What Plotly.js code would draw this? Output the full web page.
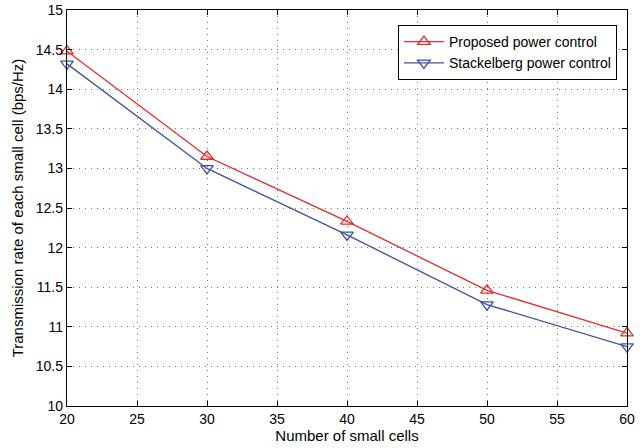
<!DOCTYPE html>
<html>
<head>
<meta charset="utf-8">
<script src="https://cdn.plot.ly/plotly-3.0.1.min.js"></script>
<style>html,body{margin:0;padding:0;background:#fff;}#chart{width:644px;height:448px;}</style>
</head>
<body>
<div id="chart"></div>
<script>
const cells = [20, 30, 40, 50, 60];
const proposed = [14.48, 13.15, 12.33, 11.46, 10.92];
const stackelberg = [14.32, 13.00, 12.16, 11.28, 10.75];
const xTicks = [20, 25, 30, 35, 40, 45, 50, 55, 60];
const yTicks = [10, 10.5, 11, 11.5, 12, 12.5, 13, 13.5, 14, 14.5, 15];

const red = '#e8292b';
const blue = '#3f4fa3';
const FONT = 'Liberation Sans, Arial, sans-serif';

const traces = [
  {x: cells, y: proposed, name: 'Proposed power control', mode: 'lines+markers', cliponaxis: false,
   line: {color: red, width: 1.3},
   marker: {symbol: 'triangle-up-open', size: 11, color: red, line: {width: 1.3, color: red}}},
  {x: cells, y: stackelberg, name: 'Stackelberg power control', mode: 'lines+markers', cliponaxis: false,
   line: {color: blue, width: 1.3},
   marker: {symbol: 'triangle-down-open', size: 11, color: blue, line: {width: 1.3, color: blue}}}
];

const axisCommon = {
  showline: true, mirror: 'allticks', linecolor: '#000', linewidth: 1.2,
  ticks: 'inside', ticklen: 5, tickcolor: '#000',
  showgrid: true, gridcolor: '#777', griddash: '1px,5px', gridwidth: 1,
  zeroline: false,
  tickfont: {family: FONT, size: 14, color: '#000'}
};

const layout = {
  width: 644, height: 448,
  margin: {l: 67, r: 17, t: 10, b: 42},
  paper_bgcolor: '#fff', plot_bgcolor: '#fff',
  showlegend: true,
  legend: {x: 0.982, y: 0.962, xanchor: 'right', yanchor: 'top',
    bgcolor: '#fff', bordercolor: '#000', borderwidth: 1,
    font: {family: FONT, size: 14, color: '#000'},
    itemwidth: 40, tracegroupgap: 0},
  xaxis: Object.assign({}, axisCommon, {
    range: [20, 60], tickvals: xTicks, ticktext: xTicks.map(String),
    title: {text: 'Number of small cells', standoff: 4,
      font: {family: FONT, size: 15, color: '#000'}}
  }),
  yaxis: Object.assign({}, axisCommon, {
    range: [10, 15], tickvals: yTicks, ticktext: yTicks.map(String),
    title: {text: 'Transmission rate of each small cell (bps/Hz)', standoff: 8,
      font: {family: FONT, size: 15, color: '#000'}}
  })
};

Plotly.newPlot('chart', traces, layout, {displayModeBar: false, staticPlot: true});
</script>
</body>
</html>
